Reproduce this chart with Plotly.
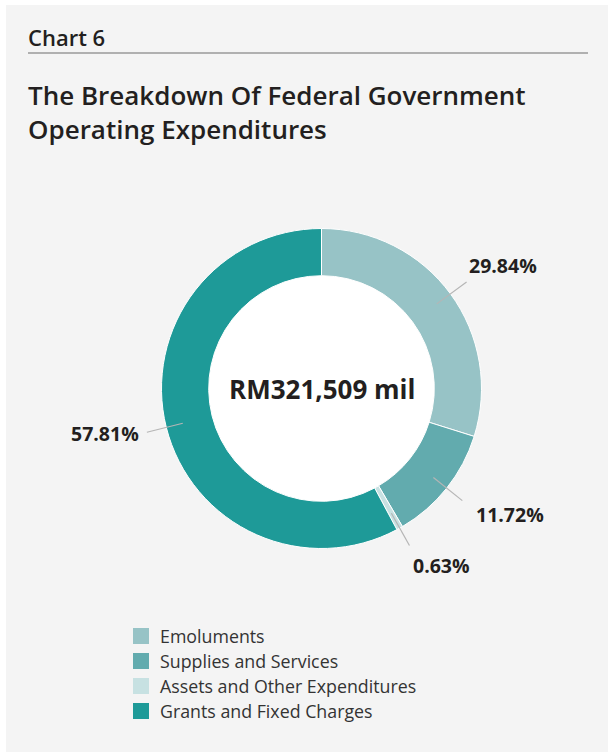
import math
import plotly.graph_objects as go

# Operating expenditure breakdown (share of total, %)
categories = ["Emoluments", "Supplies and Services",
              "Assets and Other Expenditures", "Grants and Fixed Charges"]
shares = [29.84, 11.72, 0.63, 57.81]
total_rm_mil = 321509

colors = ["#97c3c6", "#62abae", "#c7e1e2", "#1e9a98"]

W, H = 608, 752
FONT = "'Open Sans', 'Noto Sans', sans-serif"
INK = "#231f20"


def px(x):
    return x / W


def py(y):
    return 1 - y / H


# donut geometry in pixels
CX, CY, R = 321.5, 388.5, 160
HOLE = 0.705

fig = go.Figure()
fig.add_trace(go.Pie(
    labels=categories,
    values=shares,
    sort=False,
    direction="clockwise",
    rotation=0,
    hole=HOLE,
    marker=dict(colors=colors, line=dict(color="white", width=1)),
    textinfo="none",
    hoverinfo="label+percent",
    showlegend=False,
    domain=dict(x=[px(CX - R), px(CX + R)], y=[py(CY + R), py(CY - R)]),
))

r_in = R * HOLE
shapes = [
    # panel background
    dict(type="rect", xref="paper", yref="paper", x0=px(6), x1=1, y0=0, y1=py(5),
         fillcolor="#f4f4f4", line=dict(width=0), layer="below"),
    # white disc inside the donut
    dict(type="circle", xref="paper", yref="paper",
         x0=px(CX - r_in), x1=px(CX + r_in), y0=py(CY + r_in), y1=py(CY - r_in),
         fillcolor="white", line=dict(width=0), layer="below"),
    # rule under the chart number
    dict(type="line", xref="paper", yref="paper", x0=px(28), x1=px(588),
         y0=py(53), y1=py(53), line=dict(color="#9a9a9a", width=1.5)),
]

annotations = [
    dict(text="Chart 6", x=px(26), y=py(37), xref="paper", yref="paper",
         xanchor="left", yanchor="middle", showarrow=False,
         font=dict(family=FONT, size=22, color=INK, weight=600)),
    dict(text="The Breakdown Of Federal Government<br>Operating Expenditures",
         x=px(26), y=py(112), xref="paper", yref="paper", align="left",
         xanchor="left", yanchor="middle", showarrow=False,
         font=dict(family=FONT, size=26, color=INK, weight=600)),
    dict(text=f"<b>RM{total_rm_mil:,} mil</b>", x=px(CX), y=py(CY),
         xref="paper", yref="paper", xanchor="center", yanchor="middle",
         showarrow=False, font=dict(family=FONT, size=26, color=INK)),
]

# leader lines and percentage labels, placed at each slice's mid-angle
label_style = [  # (dx, dy, xanchor) from the outer end of the leader line
    (0, -16, "left"),
    (12, 14, "left"),
    (2, 20, "left"),
    (-6, 1, "right"),
]
total = sum(shares)
cum = 0.0
for v, (dx, dy, xa) in zip(shares, label_style):
    mid = (cum + v / 2) / total * 2 * math.pi
    cum += v
    sx, sy = math.sin(mid), -math.cos(mid)
    x1, y1 = CX + 143 * sx, CY + 143 * sy
    x2, y2 = CX + 180 * sx, CY + 180 * sy
    shapes.append(dict(type="line", xref="paper", yref="paper",
                       x0=px(x1), y0=py(y1), x1=px(x2), y1=py(y2),
                       line=dict(color="#b5b5b5", width=1.2)))
    annotations.append(dict(text=f"<b>{v:.2f}%</b>", x=px(x2 + dx), y=py(y2 + dy),
                            xref="paper", yref="paper", xanchor=xa, yanchor="middle",
                            showarrow=False,
                            font=dict(family=FONT, size=19.5, color=INK)))

# legend: swatches with names
LEG_X, LEG_Y0, LEG_STEP, SW = 133, 636, 25, 16
for i, (name, c) in enumerate(zip(categories, colors)):
    yc = LEG_Y0 + i * LEG_STEP
    shapes.append(dict(type="rect", xref="paper", yref="paper",
                       x0=px(LEG_X), x1=px(LEG_X + SW),
                       y0=py(yc + SW / 2), y1=py(yc - SW / 2),
                       fillcolor=c, line=dict(width=0)))
    annotations.append(dict(text=name, x=px(LEG_X + SW + 9), y=py(yc),
                            xref="paper", yref="paper", xanchor="left",
                            yanchor="middle", showarrow=False,
                            font=dict(family=FONT, size=17.8, color="#333333")))

fig.update_layout(
    width=W, height=H,
    margin=dict(l=0, r=0, t=0, b=0),
    paper_bgcolor="white",
    plot_bgcolor="white",
    shapes=shapes,
    annotations=annotations,
)

fig.write_html("out.html")
